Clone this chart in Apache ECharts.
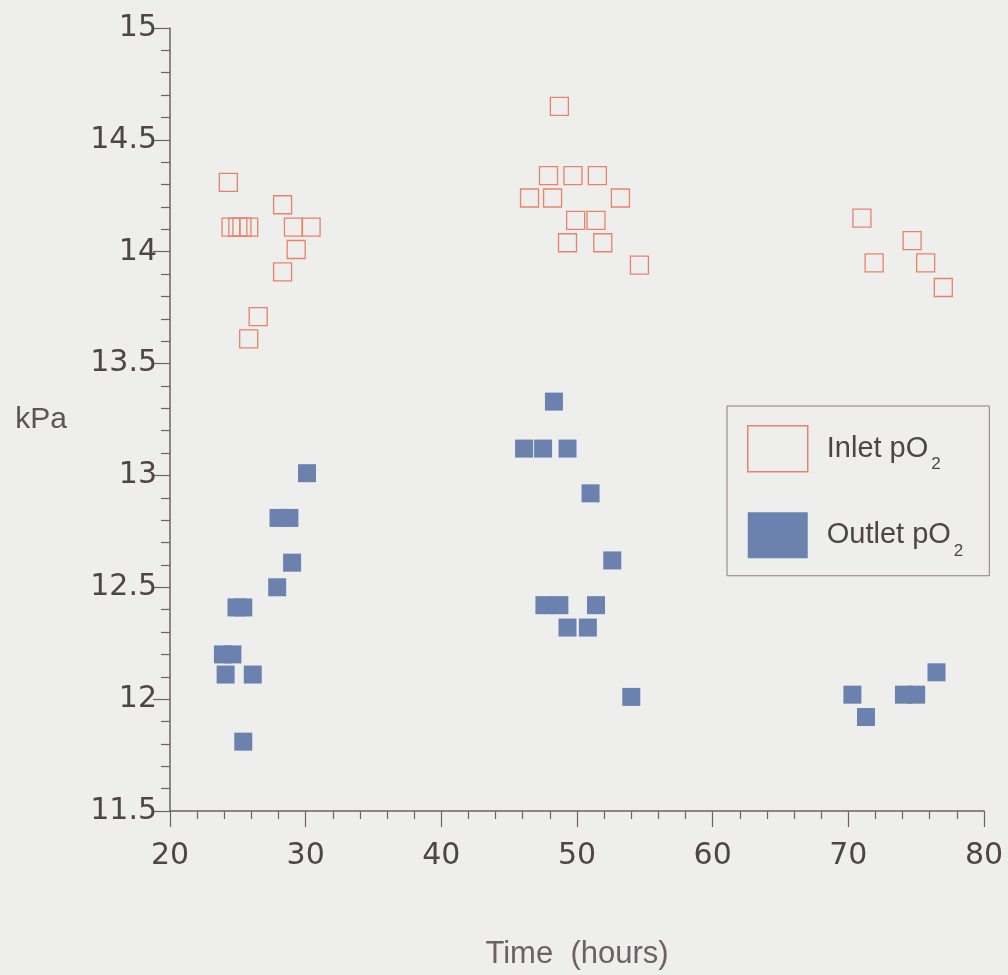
<!DOCTYPE html>
<html>
<head>
<meta charset="utf-8">
<script src="https://cdn.jsdelivr.net/npm/echarts@6/dist/echarts.min.js"></script>
<style>
html,body{margin:0;padding:0;background:#eeeeec;}
#chart{width:1008px;height:975px;}
</style>
</head>
<body>
<div id="chart"></div>
<script>
// Data
var inletX = [24.3, 24.5, 25.0, 25.3, 25.8, 28.3, 29.1, 30.4, 29.3, 28.3, 26.5, 25.8,
              48.7, 47.9, 49.7, 51.5, 46.5, 48.2, 53.2, 49.9, 51.4, 49.3, 51.9, 54.6,
              71.0, 74.7, 71.9, 75.7, 77.0];
var inletY = [14.31, 14.11, 14.11, 14.11, 14.11, 14.21, 14.11, 14.11, 14.01, 13.91, 13.71, 13.61,
              14.65, 14.34, 14.34, 14.34, 14.24, 14.24, 14.24, 14.14, 14.14, 14.04, 14.04, 13.94,
              14.15, 14.05, 13.95, 13.95, 13.84];
var outletX = [30.1, 28.0, 28.8, 29.0, 27.9, 24.9, 25.4, 23.9, 24.6, 24.1, 26.1, 25.4,
               48.3, 46.1, 47.5, 49.3, 51.0, 52.6, 47.6, 48.7, 51.4, 49.3, 50.8, 54.0,
               70.3, 71.3, 74.1, 75.0, 76.5];
var outletY = [13.01, 12.81, 12.81, 12.61, 12.50, 12.41, 12.41, 12.20, 12.20, 12.11, 12.11, 11.81,
               13.33, 13.12, 13.12, 13.12, 12.92, 12.62, 12.42, 12.42, 12.42, 12.32, 12.32, 12.01,
               12.02, 11.92, 12.02, 12.02, 12.12];
var seriesNames = ['Inlet pO2', 'Outlet pO2'];
var xTitle = 'Time  (hours)';
var yTitle = 'kPa';

function pairs(xs, ys) { return xs.map(function (x, i) { return [x, ys[i]]; }); }

var axisColor = '#6f6265';
var textColor = '#4d4548';
var inletColor = '#e8826a';
var outletColor = '#6b82ae';

var chart = echarts.init(document.getElementById('chart'), null, {renderer: 'canvas'});
chart.setOption({
  backgroundColor: '#eeeeec',
  animation: false,
  grid: {left: 170, right: 24, top: 28, bottom: 162, containLabel: false},
  xAxis: {
    type: 'value', min: 20, max: 80, interval: 10,
    name: xTitle, nameLocation: 'middle', nameGap: 128,
    nameTextStyle: {fontFamily: 'Liberation Sans', fontSize: 31, color: '#6e6066'},
    axisLine: {show: true, lineStyle: {color: axisColor, width: 1.5}},
    axisTick: {show: true, inside: false, length: 16, lineStyle: {color: axisColor, width: 1.2}},
    minorTick: {show: true, splitNumber: 5, length: 8, lineStyle: {color: axisColor, width: 1.2}},
    splitLine: {show: false},
    axisLabel: {margin: 30, fontFamily: 'DejaVu Sans', fontSize: 30, color: textColor}
  },
  yAxis: {
    type: 'value', min: 11.5, max: 15, interval: 0.5,
    name: yTitle, nameLocation: 'middle', nameGap: 103, nameRotate: 0,
    nameTextStyle: {fontFamily: 'Liberation Sans', fontSize: 30, color: '#5a5558'},
    axisLine: {show: true, lineStyle: {color: axisColor, width: 1.5}},
    axisTick: {show: true, inside: false, length: 17, lineStyle: {color: axisColor, width: 1.2}},
    minorTick: {show: true, splitNumber: 5, length: 9, lineStyle: {color: axisColor, width: 1.2}},
    splitLine: {show: false},
    axisLabel: {margin: 13, fontFamily: 'DejaVu Sans', fontSize: 30, color: textColor}
  },
  legend: {
    orient: 'vertical', left: 727, top: 406,
    padding: [19, 26, 16, 20],
    borderColor: '#8c7f80', borderWidth: 1,
    itemWidth: 60, itemHeight: 46, itemGap: 39,
    icon: 'rect',
    data: [
      {name: seriesNames[0], itemStyle: {color: 'rgba(0,0,0,0)', borderColor: inletColor, borderWidth: 1.5}},
      {name: seriesNames[1], itemStyle: {color: outletColor, borderWidth: 0}}
    ],
    formatter: function (name) {
      return '{a|' + name.slice(0, -1) + '}{b|' + name.slice(-1) + '}';
    },
    textStyle: {
      padding: [0, 0, 0, 14],
      rich: {
        a: {fontFamily: 'Liberation Sans', fontSize: 29, color: textColor},
        b: {fontFamily: 'Liberation Sans', fontSize: 17, color: textColor, padding: [32, 0, 0, 3]}
      }
    }
  },
  series: [
    {
      name: seriesNames[0], type: 'scatter', symbol: 'rect', symbolSize: 18,
      data: pairs(inletX, inletY),
      itemStyle: {color: 'rgba(0,0,0,0)', borderColor: inletColor, borderWidth: 1.3, opacity: 1}
    },
    {
      name: seriesNames[1], type: 'scatter', symbol: 'rect', symbolSize: 18,
      data: pairs(outletX, outletY),
      itemStyle: {color: outletColor, opacity: 1}
    }
  ]
});
</script>
</body>
</html>
